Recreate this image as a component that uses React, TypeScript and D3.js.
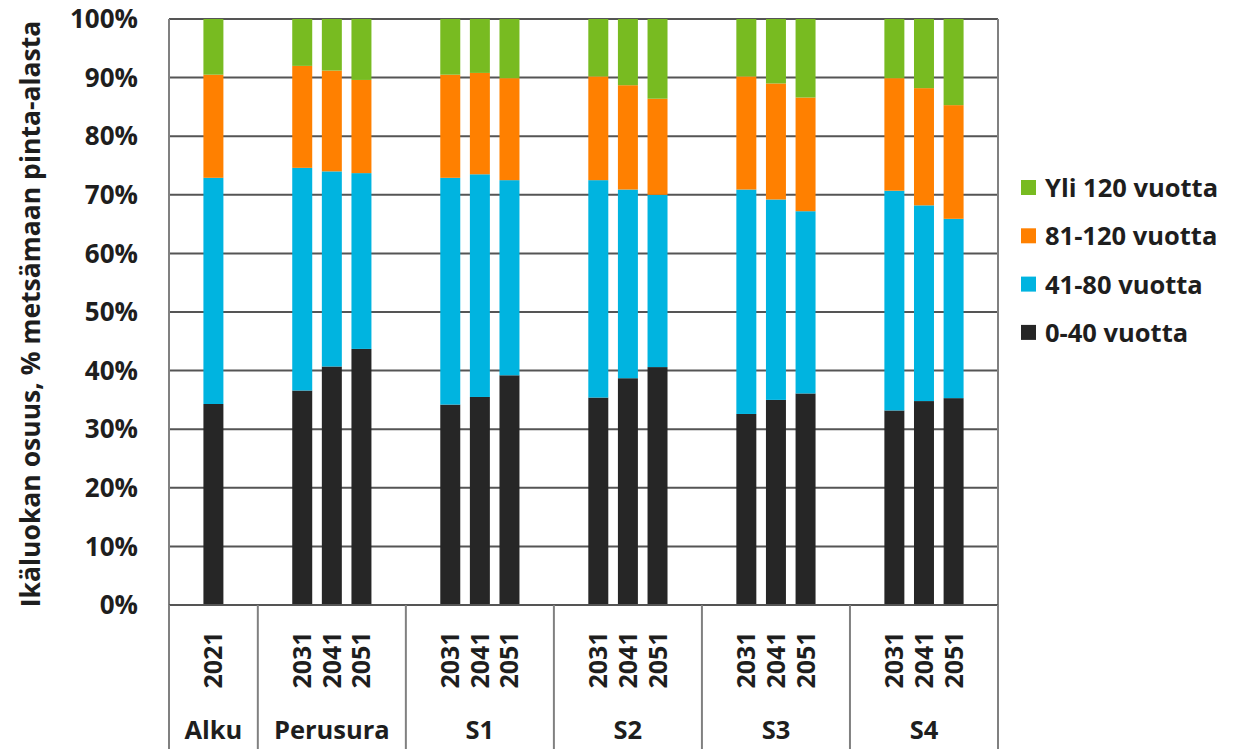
import React from "react";
import * as d3 from "d3";

const groups = ["Alku", "Perusura", "S1", "S2", "S3", "S4"];
const groupYears = [
  ["2021"],
  ["2031", "2041", "2051"],
  ["2031", "2041", "2051"],
  ["2031", "2041", "2051"],
  ["2031", "2041", "2051"],
  ["2031", "2041", "2051"],
];
// bar order: Alku 2021, Perusura 2031/2041/2051, S1..., S2..., S3..., S4...
const age0to40 = [34.3, 36.6, 40.7, 43.7, 34.2, 35.5, 39.2, 35.4, 38.7, 40.6, 32.6, 35.0, 36.1, 33.2, 34.8, 35.3];
const age41to80 = [38.6, 38.0, 33.3, 30.0, 38.7, 38.0, 33.3, 37.1, 32.2, 29.4, 38.3, 34.2, 31.1, 37.5, 33.4, 30.6];
const age81to120 = [17.6, 17.4, 17.2, 15.9, 17.6, 17.3, 17.4, 17.7, 17.8, 16.4, 19.3, 19.8, 19.4, 19.2, 20.0, 19.4];
const ageOver120 = [9.5, 8.0, 8.8, 10.4, 9.5, 9.2, 10.1, 9.8, 11.3, 13.6, 9.8, 11.0, 13.4, 10.1, 11.8, 14.7];

const seriesKeys = ["a", "b", "c", "d"];
const seriesNames = ["0-40 vuotta", "41-80 vuotta", "81-120 vuotta", "Yli 120 vuotta"];
const seriesColors = ["#262626", "#00b4e0", "#ff8000", "#78bb21"];
const yTicks = [0, 10, 20, 30, 40, 50, 60, 70, 80, 90, 100];
const yTitle = "Ikäluokan osuus, % metsämaan pinta-alasta";

const FONT = "'Open Sans', sans-serif";

export default function App() {
  const W = 1234, H = 749;
  const left = 169, right = 998, top = 19, bottom = 605;

  const slots: string[] = [];
  const bars: { key: string; group: number; year: string; idx: number }[] = [];
  let bi = 0;
  groups.forEach((g, gi) => {
    slots.push(`${g}-padL`);
    groupYears[gi].forEach((yr) => {
      const key = `${g}-${yr}`;
      slots.push(key);
      bars.push({ key, group: gi, year: yr, idx: bi++ });
    });
    slots.push(`${g}-padR`);
  });

  const x = d3.scaleBand<string>().domain(slots).range([left, right]).paddingInner(0.325).paddingOuter(0.1625);
  const y = d3.scaleLinear().domain([0, 100]).range([bottom, top]);

  const table = bars.map((b) => ({
    key: b.key,
    a: age0to40[b.idx],
    b: age41to80[b.idx],
    c: age81to120[b.idx],
    d: ageOver120[b.idx],
  }));
  const stacked = d3.stack<any>().keys(seriesKeys)(table);

  const step = x.step();
  const groupBounds = groups.map((g) => {
    const x0 = (x(`${g}-padL`) as number) - step * 0.1625;
    const x1 = (x(`${g}-padR`) as number) - step * 0.1625 + step;
    return { g, x0, x1 };
  });
  const sepXs = [left, ...groupBounds.map((b) => b.x1)];

  return (
    <svg width={W} height={H} style={{ position: "absolute", left: 0, top: 0, background: "#fff" }} fontFamily={FONT}>
      {yTicks.map((t) => (
        <line key={`g${t}`} x1={left} x2={right} y1={y(t)} y2={y(t)} stroke="#555" strokeWidth={2} />
      ))}
      {stacked.map((layer, si) => (
        <g key={seriesKeys[si]} fill={seriesColors[si]}>
          {layer.map((d, i) => (
            <rect
              key={table[i].key}
              x={x(table[i].key)}
              width={x.bandwidth()}
              y={y(d[1])}
              height={y(d[0]) - y(d[1])}
            />
          ))}
        </g>
      ))}
      <line x1={left} x2={left} y1={top} y2={bottom} stroke="#808080" strokeWidth={2} />
      <line x1={right} x2={right} y1={top} y2={bottom} stroke="#808080" strokeWidth={2} />
      <line x1={left} x2={right} y1={bottom} y2={bottom} stroke="#555" strokeWidth={2} />
      {sepXs.map((sx, i) => (
        <line key={`s${i}`} x1={sx} x2={sx} y1={bottom} y2={H} stroke="#808080" strokeWidth={2} />
      ))}
      {yTicks.map((t) => (
        <text key={`t${t}`} x={138} y={y(t)} dy="0.35em" textAnchor="end" fontSize={26} fontWeight="bold" fill="#1e1e1e">
          {`${t}%`}
        </text>
      ))}
      <text
        transform={`translate(40, ${(top + bottom) / 2 + 2}) rotate(-90)`}
        textAnchor="middle"
        fontSize={26.5}
        fontWeight="bold"
        fill="#1e1e1e"
      >
        {yTitle}
      </text>
      {bars.map((b) => {
        const cx = (x(b.key) as number) + x.bandwidth() / 2;
        return (
          <text
            key={`yl${b.key}`}
            transform={`translate(${cx + 9}, 660) rotate(-90)`}
            textAnchor="middle"
            fontSize={25}
            fontWeight="bold"
            fill="#1e1e1e"
          >
            {b.year}
          </text>
        );
      })}
      {groupBounds.map((gb) => (
        <text key={`gl${gb.g}`} x={(gb.x0 + gb.x1) / 2} y={739} textAnchor="middle" fontSize={25.5} fontWeight="bold" fill="#1e1e1e">
          {gb.g}
        </text>
      ))}
      {[3, 2, 1, 0].map((si, i) => {
        const cy = 188 + i * 48.3;
        return (
          <g key={`lg${si}`}>
            <rect x={1021} y={cy - 8} width={15} height={15} fill={seriesColors[si]} />
            <text x={1045} y={cy} dy="0.35em" fontSize={25.5} fontWeight="bold" fill="#1e1e1e">
              {seriesNames[si]}
            </text>
          </g>
        );
      })}
    </svg>
  );
}
